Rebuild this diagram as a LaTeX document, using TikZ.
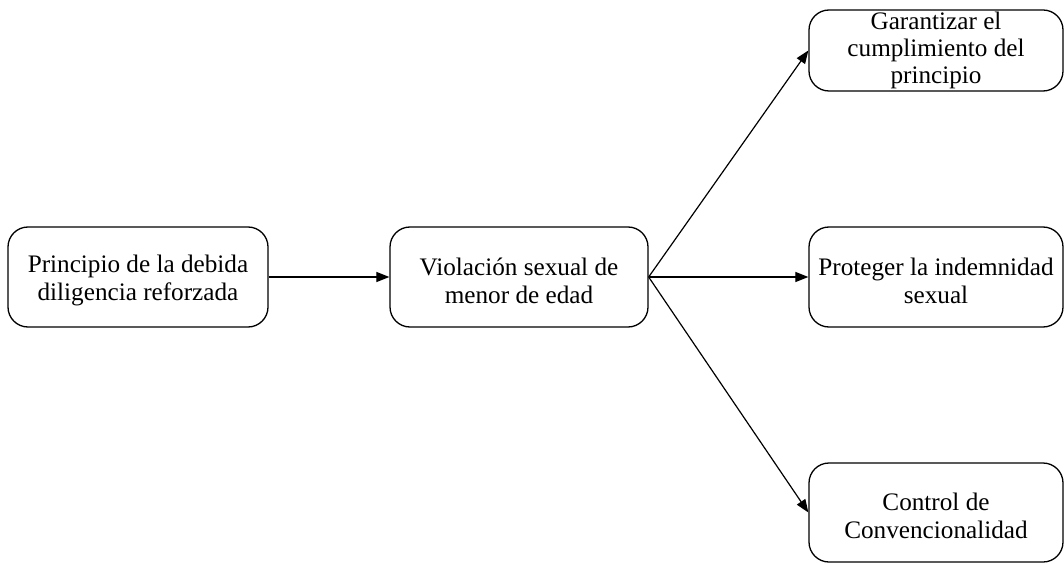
\documentclass[tikz,border=0pt]{standalone}
\usepackage{fontspec}
\setmainfont{Liberation Serif}
\usetikzlibrary{arrows.meta}
\newcommand{\topstrut}{\rule{0pt}{25pt}}
\begin{document}
\begin{tikzpicture}[x=1pt,y=1pt,
  box/.style={draw, line width=1.3pt, rounded corners=20pt, inner sep=0pt, align=center,
    font=\fontsize{25.2}{28}\selectfont},
  conn/.style={line width=1.2pt, -{Triangle[length=13pt,width=10pt]}}]
\useasboundingbox (0,0) rectangle (1064,563);
\node[box, minimum width=260pt, minimum height=100pt] (b1) at (138,286) {\topstrut Principio de la debida\\diligencia reforzada};
\node[box, minimum width=258pt, minimum height=100pt] (b2) at (519,286) {\topstrut Violación sexual de\\menor de edad};
\node[box, minimum width=254pt, minimum height=81pt, font=\fontsize{25.2}{27}\selectfont] (b3) at (936,512.5) {Garantizar el\\cumplimiento del\\principio};
\node[box, minimum width=254pt, minimum height=100pt] (b4) at (936,286) {\topstrut Proteger la indemnidad\\sexual};
\node[box, minimum width=254pt, minimum height=99pt] (b5) at (936,50.5) {\topstrut Control de\\Convencionalidad};
\draw[conn] (b1.east) -- (b2.west);
\draw[conn] (b2.east) -- (b4.west);
\draw[conn] (b2.east) -- (b3.west);
\draw[conn] (b2.east) -- (b5.west);
\end{tikzpicture}
\end{document}
